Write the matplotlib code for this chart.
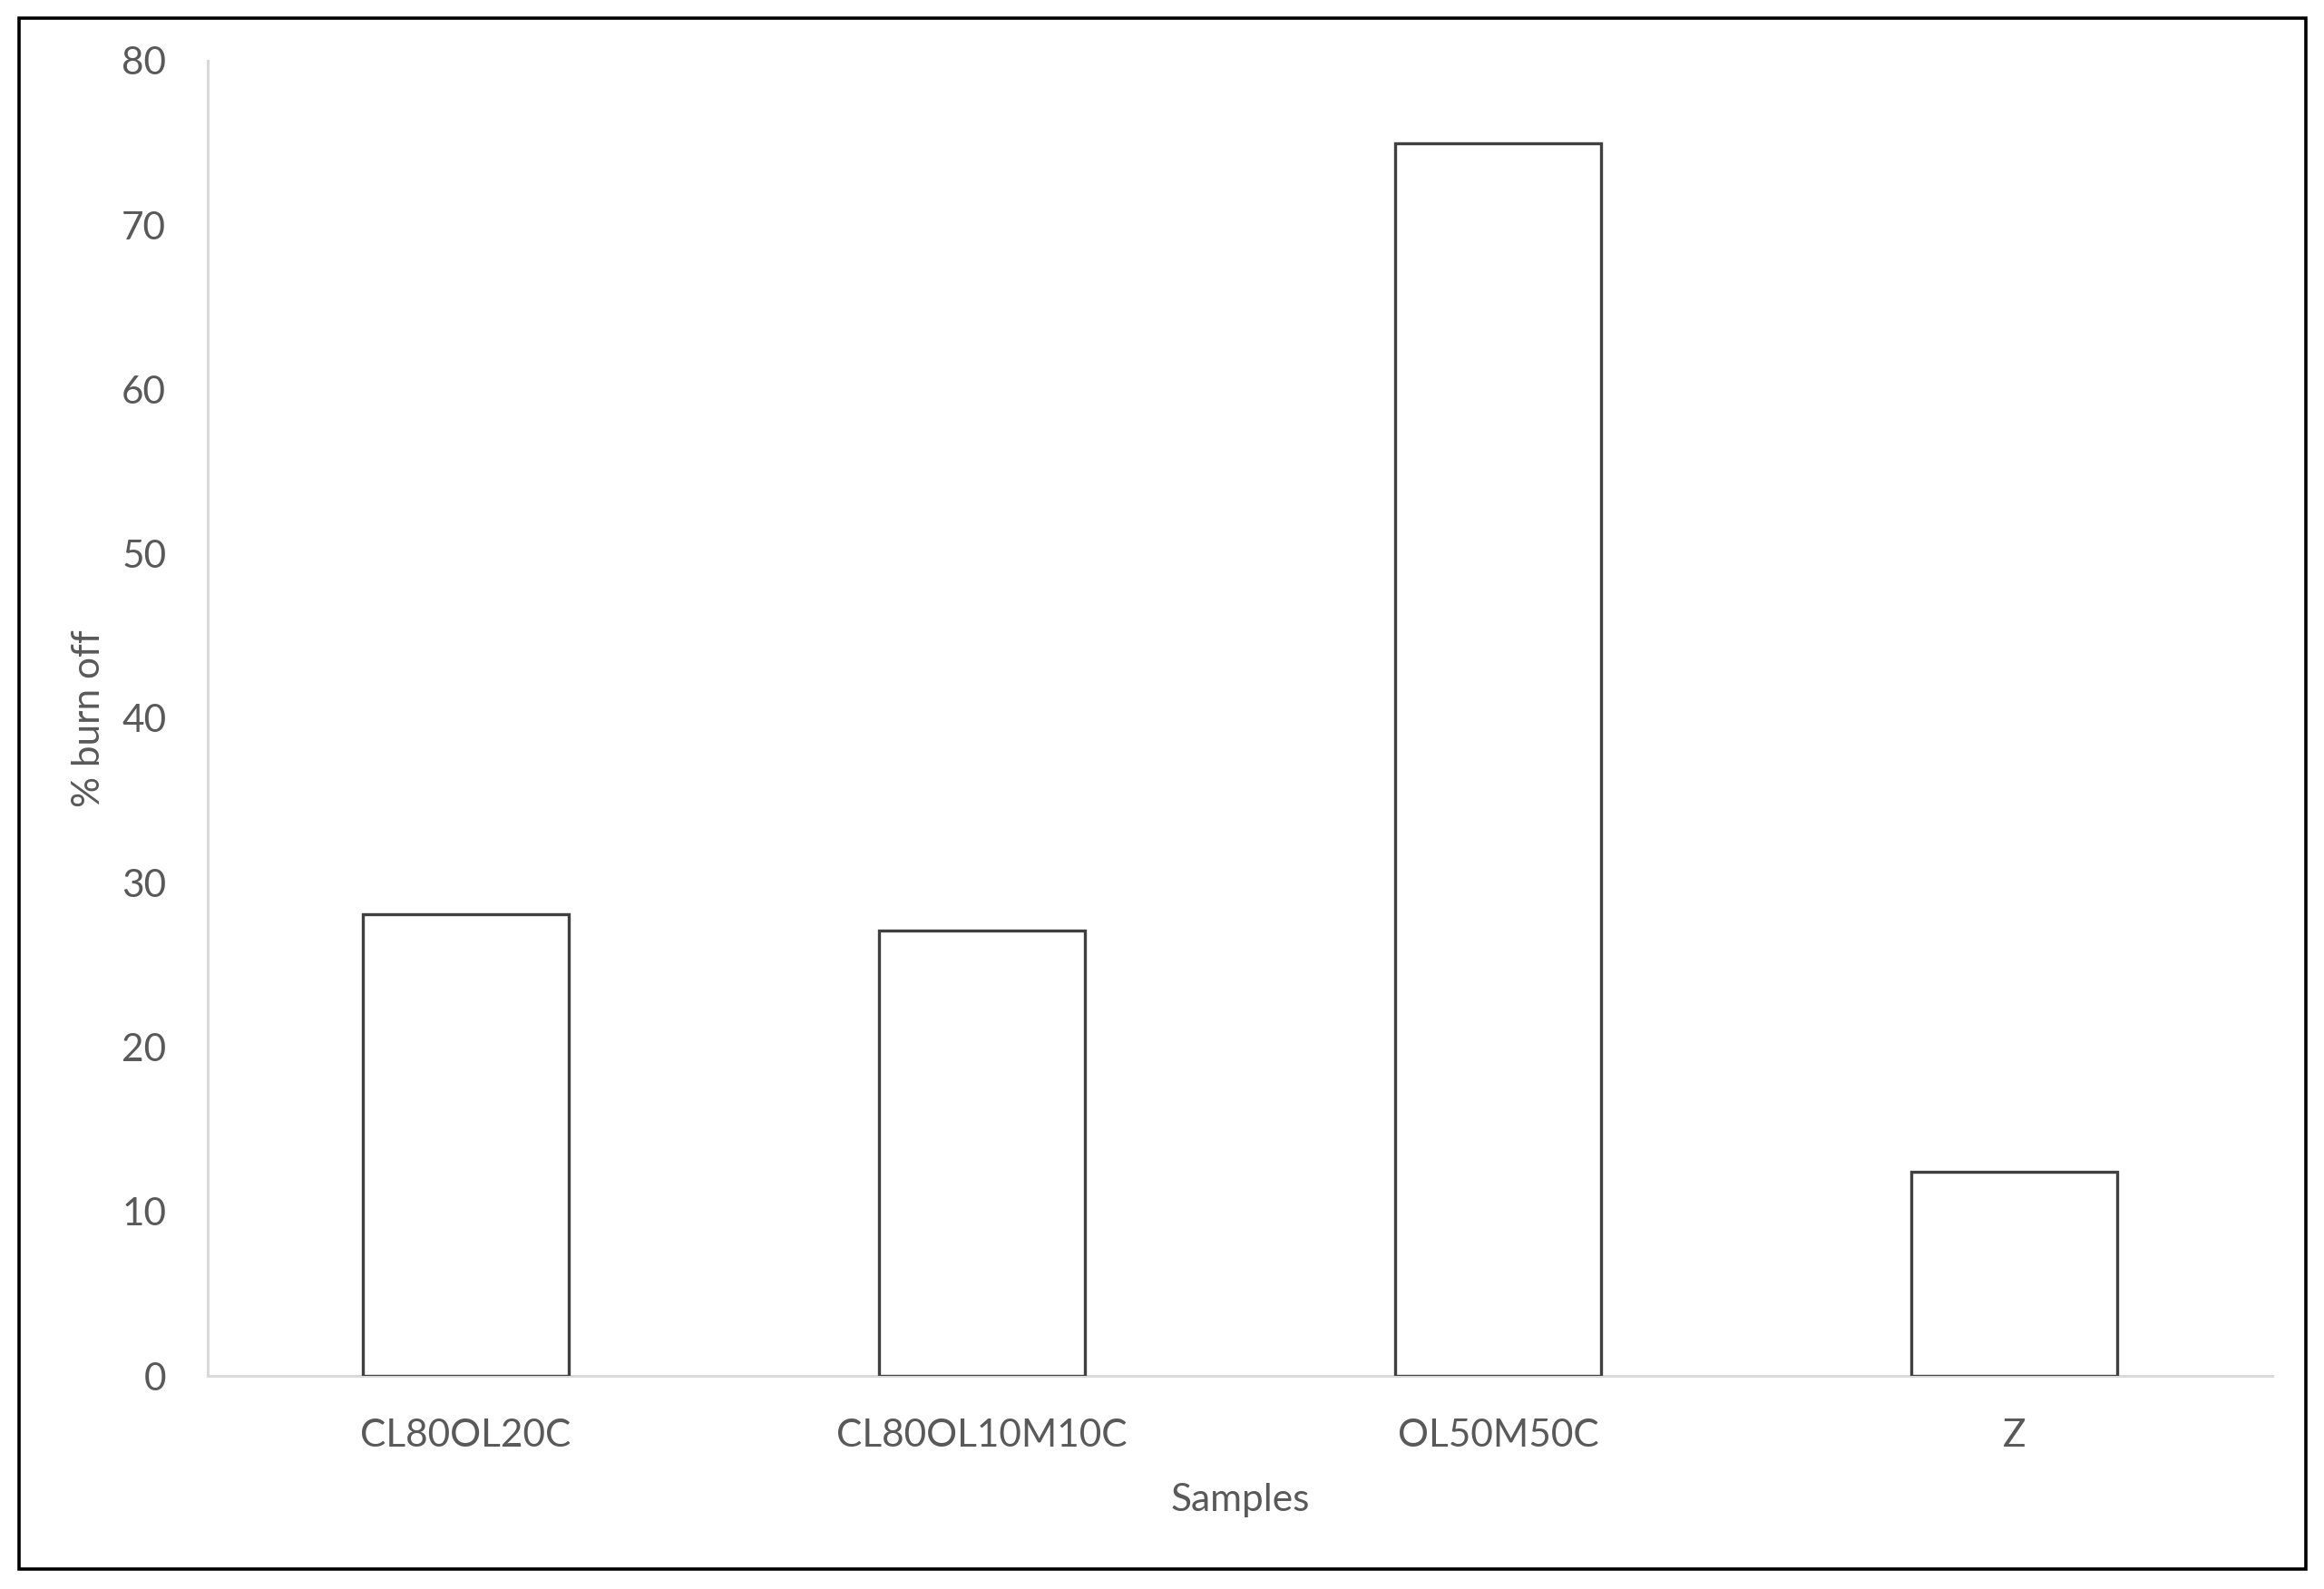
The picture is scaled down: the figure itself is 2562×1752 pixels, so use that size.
import matplotlib
matplotlib.use("Agg")
import matplotlib.pyplot as plt
from matplotlib.patches import Rectangle

categories = ["CL80OL20C", "CL80OL10M10C", "OL50M50C", "Z"]
burn_off = [28.1, 27.1, 75.0, 12.4]
y_ticks = [0, 10, 20, 30, 40, 50, 60, 70, 80]

plt.rcParams['font.family'] = ['Lato', 'DejaVu Sans']

fig = plt.figure(figsize=(25.62, 17.52), dpi=100)
ax = fig.add_axes([0.0894, 0.1341, 0.9778 - 0.0894, 0.9618 - 0.1341])

x = range(len(categories))
ax.bar(x, burn_off, width=0.40, color="white", edgecolor="#404040", linewidth=2.4, zorder=3)

ax.set_xlim(-0.5, len(categories) - 0.5)
ax.set_ylim(0, 80)
ax.set_yticks(y_ticks)
ax.set_xticks(list(x))
ax.set_xticklabels(categories)

for s in ["top", "right"]:
    ax.spines[s].set_visible(False)
for s in ["left", "bottom"]:
    ax.spines[s].set_color("#d9d9d9")
    ax.spines[s].set_linewidth(2.2)

ax.tick_params(axis="both", length=0, labelsize=30.5, labelcolor="#595959")
ax.tick_params(axis="y", pad=33)
ax.tick_params(axis="x", pad=34)

ax.set_xlabel("Samples", fontsize=30.5, color="#595959")
ax.set_ylabel("% burn off", fontsize=30.5, color="#595959")
ax.xaxis.set_label_coords(0.5, -0.0945)
ax.xaxis.label.set_va("center")
ax.yaxis.set_label_coords(-0.0576, 0.5)
ax.yaxis.label.set_va("center")

fig.patches.append(Rectangle((0.0082, 0.0126), 0.9922 - 0.0082, 0.9886 - 0.0126,
                             transform=fig.transFigure, fill=False,
                             edgecolor="black", linewidth=2.6))

fig.savefig("out.png", dpi=100, facecolor="white")
